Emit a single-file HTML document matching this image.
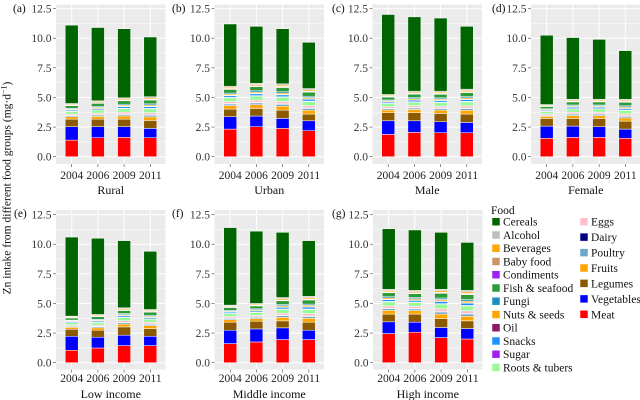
<!DOCTYPE html>
<html><head><meta charset="utf-8">
<style>
html,body{margin:0;padding:0;background:#fff;}
svg{display:block;}
svg text, svg tspan{font-family:"Liberation Serif","Times New Roman",Times,serif !important;}
.tk{font-size:11.5px;fill:#333;}
.yr{font-size:11.5px;fill:#222;text-anchor:middle;}
.ti{font-size:12px;fill:#111;text-anchor:middle;}
.tg{font-size:11.5px;fill:#111;}
.lg{font-size:11.5px;fill:#111;}
</style></head><body>
<svg id="s" width="640" height="400" viewBox="0 0 640 400" xmlns="http://www.w3.org/2000/svg" font-family="Liberation Serif, Times New Roman, serif" style="font-family:'Liberation Serif','Times New Roman',serif">
<rect x="0" y="0" width="640" height="400" fill="#fff"/>
<g id="g"></g>

<!-- y axis title -->
<text class="tg" transform="translate(10.5,188) rotate(-90)" text-anchor="middle">Zn intake from different food groups (mg·d<tspan dy="-4" font-size="8">−1</tspan><tspan dy="4">)</tspan></text>

<!-- panel tags -->
<text class="tg" x="13" y="12">(a)</text>
<text class="tg" x="172" y="12">(b)</text>
<text class="tg" x="332" y="12">(c)</text>
<text class="tg" x="492" y="12">(d)</text>
<text class="tg" x="14" y="217">(e)</text>
<text class="tg" x="172" y="217">(f)</text>
<text class="tg" x="332" y="217">(g)</text>

<!-- y tick labels -->
<g class="tk" text-anchor="end">
<text x="51.5" y="160.7">0.0</text><text x="51.5" y="131.1">2.5</text><text x="51.5" y="101.5">5.0</text><text x="51.5" y="71.8">7.5</text><text x="51.5" y="42.2">10.0</text><text x="51.5" y="12.6">12.5</text>
<text x="210" y="160.7">0.0</text><text x="210" y="131.1">2.5</text><text x="210" y="101.5">5.0</text><text x="210" y="71.8">7.5</text><text x="210" y="42.2">10.0</text><text x="210" y="12.6">12.5</text>
<text x="368" y="160.7">0.0</text><text x="368" y="131.1">2.5</text><text x="368" y="101.5">5.0</text><text x="368" y="71.8">7.5</text><text x="368" y="42.2">10.0</text><text x="368" y="12.6">12.5</text>
<text x="526.5" y="160.7">0.0</text><text x="526.5" y="131.1">2.5</text><text x="526.5" y="101.5">5.0</text><text x="526.5" y="71.8">7.5</text><text x="526.5" y="42.2">10.0</text><text x="526.5" y="12.6">12.5</text>
<text x="51.5" y="366.7">0.0</text><text x="51.5" y="337.1">2.5</text><text x="51.5" y="307.5">5.0</text><text x="51.5" y="277.8">7.5</text><text x="51.5" y="248.2">10.0</text><text x="51.5" y="218.6">12.5</text>
<text x="210" y="366.7">0.0</text><text x="210" y="337.1">2.5</text><text x="210" y="307.5">5.0</text><text x="210" y="277.8">7.5</text><text x="210" y="248.2">10.0</text><text x="210" y="218.6">12.5</text>
<text x="368.5" y="366.7">0.0</text><text x="368.5" y="337.1">2.5</text><text x="368.5" y="307.5">5.0</text><text x="368.5" y="277.8">7.5</text><text x="368.5" y="248.2">10.0</text><text x="368.5" y="218.6">12.5</text>
</g>

<!-- x labels -->
<g class="yr">
<text x="71.7" y="179">2004</text><text x="97.9" y="179">2006</text><text x="124.1" y="179">2009</text><text x="150.3" y="179">2011</text>
<text x="230.2" y="179">2004</text><text x="256.4" y="179">2006</text><text x="282.6" y="179">2009</text><text x="308.8" y="179">2011</text>
<text x="388.2" y="179">2004</text><text x="414.4" y="179">2006</text><text x="440.6" y="179">2009</text><text x="466.8" y="179">2011</text>
<text x="546.7" y="179">2004</text><text x="572.9" y="179">2006</text><text x="599.1" y="179">2009</text><text x="625.3" y="179">2011</text>
<text x="71.7" y="382">2004</text><text x="97.9" y="382">2006</text><text x="124.1" y="382">2009</text><text x="150.3" y="382">2011</text>
<text x="230.2" y="382">2004</text><text x="256.4" y="382">2006</text><text x="282.6" y="382">2009</text><text x="308.8" y="382">2011</text>
<text x="388.7" y="382">2004</text><text x="414.9" y="382">2006</text><text x="441.1" y="382">2009</text><text x="467.3" y="382">2011</text>
</g>

<!-- panel titles -->
<text class="ti" x="110.75" y="194">Rural</text>
<text class="ti" x="269.25" y="194">Urban</text>
<text class="ti" x="427.25" y="194">Male</text>
<text class="ti" x="585.75" y="194">Female</text>
<text class="ti" x="110.75" y="398">Low income</text>
<text class="ti" x="269.25" y="398">Middle income</text>
<text class="ti" x="427.75" y="398">High income</text>

<!-- legend -->
<text class="lg" x="491" y="214">Food</text>
<g stroke="#fff" stroke-width="0.5">
<rect x="492" y="217.7" width="8" height="8" fill="#006400"/>
<rect x="492" y="231" width="8" height="8" fill="#BEBEBE"/>
<rect x="492" y="244.2" width="8" height="8" fill="#FFA500"/>
<rect x="492" y="257.5" width="8" height="8" fill="#C8966A"/>
<rect x="492" y="270.7" width="8" height="8" fill="#A020F0"/>
<rect x="492" y="284" width="8" height="8" fill="#2E9B3A"/>
<rect x="492" y="297.2" width="8" height="8" fill="#1B8FC0"/>
<rect x="492" y="310.5" width="8" height="8" fill="#FFA500"/>
<rect x="492" y="323.7" width="8" height="8" fill="#8B1A5E"/>
<rect x="492" y="337" width="8" height="8" fill="#1E90FF"/>
<rect x="492" y="350.2" width="8" height="8" fill="#A020F0"/>
<rect x="492" y="363.5" width="8" height="8" fill="#98FB98"/>
<rect x="580" y="217.7" width="8" height="8" fill="#FFC0CB"/>
<rect x="580" y="233.1" width="8" height="8" fill="#000080"/>
<rect x="580" y="248.6" width="8" height="8" fill="#6CA6CD"/>
<rect x="580" y="264" width="8" height="8" fill="#FFA500"/>
<rect x="580" y="279.4" width="8" height="8" fill="#8B5A00"/>
<rect x="580" y="294.9" width="8" height="8" fill="#0000FF"/>
<rect x="580" y="310.3" width="8" height="8" fill="#FF0000"/>
</g>
<g class="lg">
<text x="503" y="225.7">Cereals</text>
<text x="503" y="239">Alcohol</text>
<text x="503" y="252.2">Beverages</text>
<text x="503" y="265.5">Baby food</text>
<text x="503" y="278.7">Condiments</text>
<text x="503" y="292">Fish &amp; seafood</text>
<text x="503" y="305.2">Fungi</text>
<text x="503" y="318.5">Nuts &amp; seeds</text>
<text x="503" y="331.7">Oil</text>
<text x="503" y="345">Snacks</text>
<text x="503" y="358.2">Sugar</text>
<text x="503" y="371.5">Roots &amp; tubers</text>
<text x="591" y="225.7">Eggs</text>
<text x="591" y="241.1">Dairy</text>
<text x="591" y="256.6">Poultry</text>
<text x="591" y="272">Fruits</text>
<text x="591" y="287.4">Legumes</text>
<text x="591" y="302.9">Vegetables</text>
<text x="591" y="318.3">Meat</text>
</g>
</svg>
<script>
(function(){
var NS="http://www.w3.org/2000/svg";
var g=document.getElementById('g');
function el(n,a){var e=document.createElementNS(NS,n);for(var k in a)e.setAttribute(k,a[k]);g.appendChild(e);return e;}
var rows=[{top:4.5,bot:164,y0:156.7},{top:210,bot:369.5,y0:362.7}];
var K=11.85,PW=109.5,BW=13;
var small=[['#FFA500',.15],['#6CA6CD',.07],['#000080',.02],['#FFC0CB',.09],['#98FB98',.16],['#A020F0',.02],['#1E90FF',.07],['#8B1A5E',.02],['#FFA500',.05],['#1B8FC0',.05],['#2E9B3A',.16],['#A020F0',.02],['#C8966A',.02],['#FFA500',.05],['#BEBEBE',.05]];
var P=[
{x:56,r:0,d:[[1.40,2.53,3.17,4.49,11.1],[1.60,2.53,3.17,4.72,10.9],[1.63,2.53,3.17,4.97,10.8],[1.60,2.39,3.06,5.06,10.1]]},
{x:214.5,r:0,d:[[2.33,3.37,4.02,5.95,11.2],[2.53,3.43,4.07,6.2,11.0],[2.39,3.23,3.93,6.15,10.8],[2.19,3.03,3.6,5.75,9.65]]},
{x:372.5,r:0,d:[[1.88,3.03,3.71,5.25,12.0],[2.05,3.03,3.71,5.53,11.8],[2.02,2.95,3.65,5.53,11.7],[2.02,2.89,3.6,5.7,11.0]]},
{x:531,r:0,d:[[1.55,2.58,3.23,4.4,10.25],[1.63,2.58,3.23,4.85,10.05],[1.63,2.53,3.23,4.85,9.9],[1.55,2.33,3.0,4.85,8.95]]},
{x:56,r:1,d:[[1.05,2.23,2.82,3.93,10.6],[1.24,2.15,2.74,4.07,10.5],[1.44,2.32,3.02,4.63,10.3],[1.44,2.23,2.88,4.49,9.4]]},
{x:214.5,r:1,d:[[1.61,2.74,3.42,4.86,11.4],[1.75,2.85,3.5,5.0,11.1],[1.95,2.94,3.53,5.5,11.0],[1.95,2.74,3.42,5.6,10.3]]},
{x:373,r:1,d:[[2.46,3.45,4.1,6.2,11.3],[2.57,3.42,4.1,6.1,11.2],[2.12,2.97,3.73,6.2,11.0],[2.0,2.88,3.53,6.1,10.15]]}
];
P.forEach(function(p){
 var R=rows[p.r];
 el('rect',{x:p.x,y:R.top,width:PW,height:R.bot-R.top,fill:'#EBEBEB'});
 for(var v=1.25;v<12.6;v+=2.5){var y=R.y0-K*v;if(y>R.top)el('line',{x1:p.x,x2:p.x+PW,y1:y,y2:y,stroke:'#fff','stroke-width':0.5});}
 for(var v=0;v<=12.5;v+=2.5){var y=R.y0-K*v;
   el('line',{x1:p.x,x2:p.x+PW,y1:y,y2:y,stroke:'#fff','stroke-width':1});
   el('line',{x1:p.x-3,x2:p.x,y1:y,y2:y,stroke:'#444','stroke-width':0.6});}
 for(var i=0;i<4;i++){var c=p.x+15.7+26.2*i;
   el('line',{x1:c,x2:c,y1:R.top,y2:R.bot,stroke:'#fff','stroke-width':1});
   el('line',{x1:c,x2:c,y1:R.bot,y2:R.bot+3,stroke:'#444','stroke-width':0.6});}
 p.d.forEach(function(b,i){
   var c=p.x+15.7+26.2*i, segs=[];
   segs.push(['#FF0000',0,b[0]]);segs.push(['#0000FF',b[0],b[1]]);segs.push(['#8B5A00',b[1],b[2]]);
   var gap=b[3]-b[2],cur=b[2];
   small.forEach(function(s){var n=cur+gap*s[1];segs.push([s[0],cur,n]);cur=n;});
   segs.push(['#006400',b[3],b[4]]);
   segs.forEach(function(s){
     el('rect',{x:c-BW/2,y:R.y0-K*s[2],width:BW,height:Math.max(0.1,K*(s[2]-s[1])),fill:s[0],stroke:'#fff','stroke-width':0.5});
   });
 });
});
})();
</script>
</body></html>
